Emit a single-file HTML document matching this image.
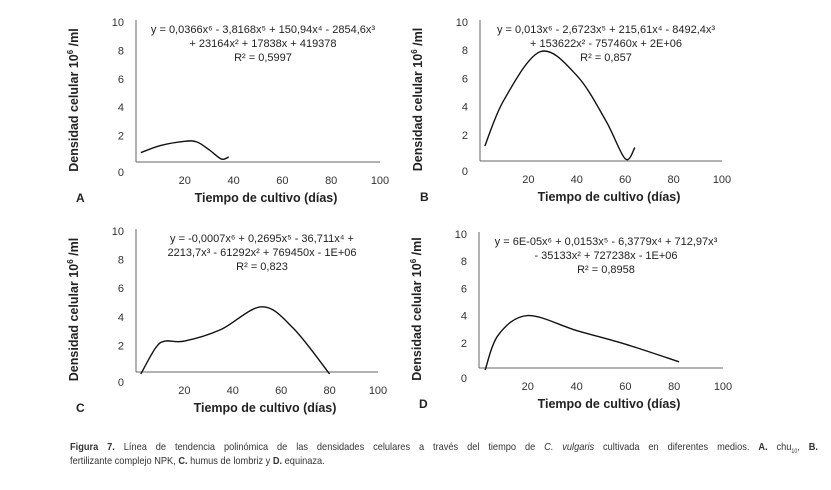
<!DOCTYPE html>
<html><head><meta charset="utf-8"><style>
body{margin:0;background:#fff;width:831px;height:485px;overflow:hidden;font-family:"Liberation Sans",Arial,sans-serif}
svg text{font-family:"Liberation Sans",Arial,sans-serif}
.cap{position:absolute;left:70px;width:850px;font-size:10.5px;color:#333;line-height:14px;transform:scaleX(0.88);transform-origin:0 0}
.l1{top:440px;text-align:justify;text-align-last:justify;white-space:nowrap}
.l2{top:454px}
</style></head><body>
<svg id="s" width="831" height="485"></svg>
<div class="cap l1"><b>Figura 7.</b> Línea de tendencia polinómica de las densidades celulares a través del tiempo de <i>C. vulgaris</i> cultivada en diferentes medios. <b>A.</b> chu<sub style="font-size:6px">10</sub>, <b>B.</b></div>
<div class="cap l2">fertilizante complejo NPK, <b>C.</b> humus de lombriz y <b>D.</b> equinaza.</div>
<script>
const xTicks=[20,40,60,80,100];
const yTicks=[0,2,4,6,8,10];
const aX=[2,10,20,25,30,35,38];
const aY=[0.8,1.3,1.6,1.55,1.0,0.35,0.5];
const bX=[2,10,25,40,52,60,64];
const bY=[1.2,4.5,7.9,6.2,3.0,0.3,1.1];
const cX=[2,8,12,20,35,52,65,80];
const cY=[0,1.8,2.3,2.3,3.1,4.7,3.2,0];
const dX=[2.5,8,20,40,60,82];
const dY=[0,2.6,4.0,2.9,1.9,0.6];
const eqs=[
 ["y = 0,0366x⁶ - 3,8168x⁵ + 150,94x⁴ - 2854,6x³","+ 23164x² + 17838x + 419378","R² = 0,5997"],
 ["y = 0,013x⁶ - 2,6723x⁵ + 215,61x⁴ - 8492,4x³","+ 153622x² - 757460x + 2E+06","R² = 0,857"],
 ["y = -0,0007x⁶ + 0,2695x⁵ - 36,711x⁴ +","2213,7x³ - 61292x² + 769450x - 1E+06","R² = 0,823"],
 ["y = 6E-05x⁶ + 0,0153x⁵ - 6,3779x⁴ + 712,97x³","- 35133x² + 727238x - 1E+06","R² = 0,8958"]];
const panels=[
 {L:"A",ox:136,base:162,top:22,x100:380,xs:aX,ys:aY},
 {L:"B",ox:480,base:161,top:22,x100:722,xs:bX,ys:bY},
 {L:"C",ox:136,base:372,top:231,x100:378,xs:cX,ys:cY},
 {L:"D",ox:479,base:368,top:234,x100:723,xs:dX,ys:dY}];
const s=document.getElementById('s');const NS='http://www.w3.org/2000/svg';
function mk(t,a,txt){const e=document.createElementNS(NS,t);for(const k in a)e.setAttribute(k,a[k]);if(txt!=null)e.textContent=txt;s.appendChild(e);return e;}
panels.forEach((p,i)=>{
 const sx=v=>p.ox+(p.x100-p.ox)*v/100;
 const zero=p.base+2, sy=v=>zero-(zero-p.top)*v/10;
 let e=mk('line',{x1:p.ox,y1:p.top-2,x2:p.ox,y2:p.base,stroke:'#666','stroke-width':1});
 
 e=mk('line',{x1:p.ox,y1:p.base,x2:p.x100,y2:p.base,stroke:'#666','stroke-width':1});
 
 yTicks.forEach(t=>{e=mk('text',{x:p.ox-12,y:(t==0?p.base+14:sy(t)+4),'text-anchor':'end','font-size':11,fill:'#333'},t);
  });
 xTicks.forEach(t=>{e=mk('text',{x:sx(t),y:p.base+22,'text-anchor':'middle','font-size':11,fill:'#333'},t);
  });
 e=mk('text',{x:p.ox-60,y:p.base+40,'font-size':12,'font-weight':'bold',fill:'#222'},p.L);
 
 e=mk('text',{x:(p.ox+p.x100)/2+8,y:p.base+40,'text-anchor':'middle','font-size':12.5,'font-weight':'bold',fill:'#222'},'Tiempo de cultivo (días)');
 
 const cy=(p.top+p.base)/2+8, cx=p.ox-58;
 e=mk('text',{x:cx,y:cy,transform:`rotate(-90 ${cx} ${cy})`,'text-anchor':'middle','font-size':12.5,'font-weight':'bold',fill:'#222'});
 e.innerHTML='Densidad celular 10<tspan dy="-5" font-size="8">6</tspan><tspan dy="5"> /ml</tspan>';
 
 eqs[i].forEach((l,j)=>{e=mk('text',{x:(p.ox+p.x100)/2+5,y:p.top+11+j*14,'text-anchor':'middle','font-size':11,fill:'#222'},l);
  });
 const pts=p.xs.map((x,k)=>[sx(x),sy(p.ys[k])]);
 let d='M'+pts[0].join(',');
 for(let k=0;k<pts.length-1;k++){const p0=pts[k-1]||pts[k],p1=pts[k],p2=pts[k+1],p3=pts[k+2]||p2;
  d+=` C${p1[0]+(p2[0]-p0[0])/6},${p1[1]+(p2[1]-p0[1])/6} ${p2[0]-(p3[0]-p1[0])/6},${p2[1]-(p3[1]-p1[1])/6} ${p2[0]},${p2[1]}`;}
 e=mk('path',{d:d,fill:'none',stroke:'#111','stroke-width':1.4});
 
});
</script>
</body></html>
